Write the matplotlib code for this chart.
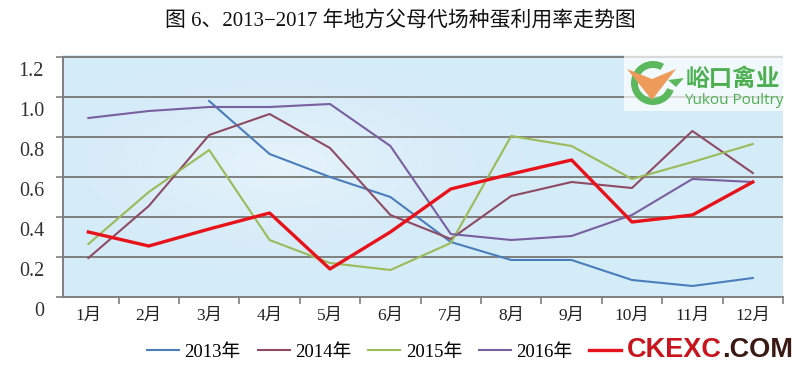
import numpy as np
import matplotlib
matplotlib.use("Agg")
import matplotlib.pyplot as plt
import matplotlib.transforms as mtransforms
from matplotlib.patches import Rectangle, Polygon, Wedge

months = ["1月", "2月", "3月", "4月", "5月", "6月", "7月", "8月", "9月", "10月", "11月", "12月"]
y2013 = [np.nan, np.nan, 0.98, 0.715, 0.60, 0.50, 0.275, 0.185, 0.185, 0.085, 0.055, 0.095]
y2014 = [0.195, 0.455, 0.81, 0.915, 0.745, 0.41, 0.29, 0.505, 0.575, 0.545, 0.83, 0.62]
y2015 = [0.265, 0.525, 0.735, 0.285, 0.17, 0.135, 0.27, 0.805, 0.755, 0.59, 0.675, 0.765]
y2016 = [0.895, 0.93, 0.95, 0.95, 0.965, 0.755, 0.315, 0.285, 0.305, 0.41, 0.59, 0.575]
y2017 = [0.325, 0.255, 0.34, 0.42, 0.14, 0.325, 0.54, 0.615, 0.685, 0.375, 0.41, 0.575]
series_labels = ["2013年", "2014年", "2015年", "2016年", "CKEXC"]
yticks = [0, 0.2, 0.4, 0.6, 0.8, 1.0, 1.2]
ytick_labels = ["0", "0.2", "0.4", "0.6", "0.8", "1.0", "1.2"]
title = "图 6、2013−2017 年地方父母代场种蛋利用率走势图"

FAM = ["Liberation Serif", "Noto Sans CJK SC", "DejaVu Sans"]
plt.rcParams["font.family"] = FAM

W, H = 800, 368
fig = plt.figure(figsize=(W / 100, H / 100), dpi=100)
fig.patch.set_facecolor("white")

ax = fig.add_axes([63 / W, 1 - 297 / H, 720 / W, 242 / H])
x = np.arange(len(months))

# background gradient
gx, gy = np.meshgrid(np.linspace(0, 1, 200), np.linspace(0, 1, 100))
d = np.sqrt(((gx - 0.30) / 0.35) ** 2 + ((gy - 0.55) / 0.45) ** 2)
t = np.clip(1 - d, 0, 1) ** 1.5
base = np.array([0.835, 0.922, 0.973])
light = np.array([0.905, 0.955, 0.985])
img = base[None, None, :] * (1 - t[..., None]) + light[None, None, :] * t[..., None]
ax.imshow(img, extent=[0, 1, 0, 1], transform=ax.transAxes, aspect="auto", zorder=0, origin="lower")

ax.set_xlim(-0.42, 11.5)
ax.set_ylim(0, 1.21)
for yv in yticks[1:]:
    ax.axhline(yv, color="#7f7f7f", lw=1.4, zorder=1)

colors = ["#4A7EBB", "#8E4B63", "#9BBB59", "#7A5FA0", "#E8121A"]
data = [y2013, y2014, y2015, y2016, y2017]
widths = [1.5, 1.5, 1.5, 1.5, 2.4]
handles = []
for yv, c, lw, lab in zip(data, colors, widths, series_labels):
    h, = ax.plot(x, yv, color=c, lw=lw, zorder=3, label=lab)
    handles.append(h)

# y ticks: marks on the axis, labels drawn slightly below each gridline (as in reference)
ax.set_yticks(yticks)
ax.set_yticklabels([])
ax.tick_params(axis="y", length=5, width=1.2, color="#7f7f7f")
off = mtransforms.ScaledTranslation(-19 / 100, -15 / 100, fig.dpi_scale_trans)
ytrans = mtransforms.blended_transform_factory(ax.transAxes, ax.transData) + off
for v, s in zip(yticks, ytick_labels):
    ax.text(0, v, s, transform=ytrans, ha="right", va="center", fontsize=14.5,
            color="#333333", clip_on=False)

ax.set_xticks(x)
ax.set_xticklabels(months, fontsize=12.5, color="#222222")
ax.set_xticks(np.arange(0.5, 11.6, 1), minor=True)
ax.tick_params(axis="x", which="major", length=0, pad=8)
ax.tick_params(axis="x", which="minor", length=5, width=1.2, color="#7f7f7f")

for s in ["top", "right"]:
    ax.spines[s].set_visible(False)
for s in ["left", "bottom"]:
    ax.spines[s].set_color("#7f7f7f")
    ax.spines[s].set_linewidth(1.4)
ax.spines["left"].set_bounds(0, 1.2)

fig.text(0.5, 1 - 22 / H, title, ha="center", va="center", fontsize=15, color="#111111")

leg = fig.legend(handles, series_labels, loc="center left", bbox_to_anchor=(147 / W, 1 - 350 / H),
                 ncol=5, frameon=False, fontsize=13.5, handlelength=1.7, handletextpad=0.3,
                 columnspacing=0.9, borderpad=0, borderaxespad=0)
wm = leg.get_texts()[4]
wm.set_color("#C8141C")
wm.set_fontweight("bold")
wm.set_fontsize(19.5)
wm.set_family(["Liberation Sans", "DejaVu Sans"])

# overlay for logo and watermark (pixel coords)
ov = fig.add_axes([0, 0, 1, 1], zorder=10)
ov.set_xlim(0, W)
ov.set_ylim(H, 0)
ov.axis("off")
ov.add_patch(Rectangle((624, 55), 161, 56, facecolor="white", alpha=0.7, edgecolor="none"))
ov.add_patch(Wedge((653, 83), 22, 20, 300, width=7, facecolor="#5CB85C", edgecolor="none"))
ov.add_patch(Polygon([[676, 87], [668, 80], [684, 78]], closed=True, facecolor="#5CB85C", edgecolor="none"))
ov.add_patch(Polygon([[627, 69], [652, 79], [676, 69], [652, 100]], closed=True,
                     facecolor="#EE9A5A", edgecolor="none"))
ov.text(733, 79, "峪口禽业", ha="center", va="center", fontsize=17, color="#4CAF50",
        fontweight="bold", family=["Noto Sans CJK SC"])
ov.text(734, 101, "Yukou Poultry", ha="center", va="center", fontsize=11, color="#4CAF50",
        family=["Open Sans", "DejaVu Sans"])

fig.canvas.draw()
bb = wm.get_window_extent()
inv = ov.transData.inverted()
px, py = inv.transform((bb.x1, (bb.y0 + bb.y1) / 2))
ov.text(px, py, ".COM", ha="left", va="center", fontsize=19.5, color="#3A1A14",
        fontweight="bold", family=["Liberation Sans", "DejaVu Sans"])

fig.savefig("out.png", dpi=100, facecolor="white")
